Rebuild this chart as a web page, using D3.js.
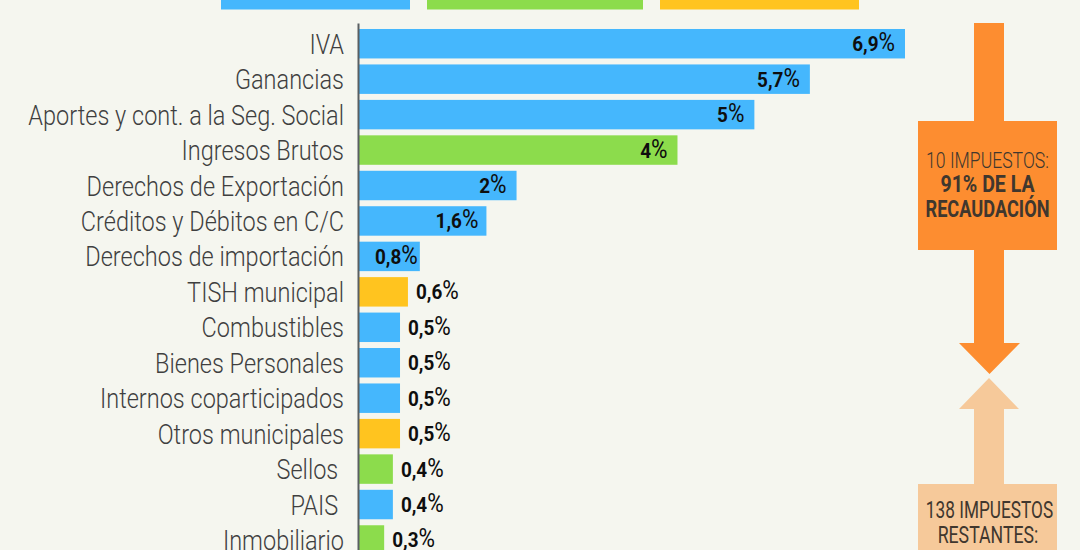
<!DOCTYPE html>
<html>
<head>
<meta charset="utf-8">
<script src="https://cdnjs.cloudflare.com/ajax/libs/d3/7.8.5/d3.min.js"></script>
<style>
  html, body { margin: 0; padding: 0; background: #f5f6ef; overflow: hidden; }
  svg { display: block; }
</style>
</head>
<body>
<script>
// impuestos, de mayor a menor
var categories = ["IVA", "Ganancias", "Aportes y cont. a la Seg. Social", "Ingresos Brutos",
    "Derechos de Exportación", "Créditos y Débitos en C/C", "Derechos de importación",
    "TISH municipal", "Combustibles", "Bienes Personales", "Internos coparticipados",
    "Otros municipales", "Sellos\u00a0", "PAIS\u00a0", "Inmobiliario"];
// largo de barra (puede pasar apenas el valor redondeado)
var values = [6.9, 5.7, 5, 4.03, 2, 1.62, 0.78, 0.63, 0.53, 0.53, 0.53, 0.53, 0.44, 0.44, 0.33];
var valueLabels = ["6,9", "5,7", "5", "4", "2", "1,6", "0,8", "0,6", "0,5", "0,5", "0,5", "0,5", "0,4", "0,4", "0,3"];
// nivel: n = nacional, p = provincial, m = municipal
var levels = ["n", "n", "n", "p", "n", "n", "n", "m", "n", "n", "n", "m", "p", "n", "p"];
var levelNames = ["n", "p", "m"];
var levelColors = ["#45b7fd", "#8cdc4c", "#ffc41f"];

var width = 1080, height = 550;
var squeeze = 0.84;   // Roboto angostada, no hay Barlow Condensed

var color = d3.scaleOrdinal().domain(levelNames).range(levelColors);
var x = d3.scaleLinear().domain([0, 6.9]).range([358, 905]);
var y = d3.scaleBand().domain(categories).range([23, 560.7]).padding(0.169);

var svg = d3.select("body").append("svg")
    .attr("width", width)
    .attr("height", height);

// franjas de la leyenda, cortadas por el borde superior
svg.selectAll("rect.legend")
    .data([[221, 410], [427, 643], [660, 859]])
    .enter().append("rect")
    .attr("class", "legend")
    .attr("x", function(d) { return d[0]; })
    .attr("y", -10)
    .attr("width", function(d) { return d[1] - d[0]; })
    .attr("height", 19.5)
    .attr("fill", function(d, i) { return levelColors[i]; });

// barras
svg.selectAll("rect.bar")
    .data(categories)
    .enter().append("rect")
    .attr("class", "bar")
    .attr("x", x(0))
    .attr("y", function(d) { return y(d); })
    .attr("width", function(d, i) { return x(values[i]) - x(0); })
    .attr("height", y.bandwidth())
    .attr("fill", function(d, i) { return color(levels[i]); });

// eje con las categorias
var axis = svg.append("g")
    .attr("transform", "translate(" + x(0) + ",0)")
    .call(d3.axisLeft(y).tickSize(0).tickPadding(0));

axis.select(".domain")
    .attr("stroke", "#5a5f62")
    .attr("stroke-width", 2);

axis.selectAll("text")
    .attr("x", -14 / squeeze)
    .attr("transform", "scale(" + squeeze + ",1)")
    .attr("dy", "0.36em")
    .style("font", "300 28px Roboto")
    .style("fill", "#3f3f3f");

// valores: adentro de la barra las siete primeras, afuera el resto
var labels = svg.selectAll("text.value")
    .data(categories)
    .enter().append("text")
    .attr("class", "value")
    .attr("text-anchor", function(d, i) { return i < 7 ? "end" : "start"; })
    .attr("transform", function(d, i) {
        // la barra de 0,8 es muy corta, el texto queda casi pegado al final
        var inside = i == 6 ? 2 : (i == 5 ? 8 : 10);
        var px = i < 7 ? x(values[i]) - inside : x(values[i]) + 8;
        return "translate(" + px + "," + (y(d) + y.bandwidth() / 2 + 7.5) + ") scale(0.9,1)";
    })
    .style("font", "700 21px Roboto")
    .style("fill", "#0e0e0e");

labels.append("tspan").text(function(d, i) { return valueLabels[i]; });
labels.append("tspan").style("font-weight", 400).style("font-size", "25px").text("%");

// flechas y recuadros de la derecha
var line = d3.line();
svg.append("path")
    .attr("fill", "#fd8d30")
    .attr("d", line([[974, 23], [1004, 23], [1004, 121], [1057, 121], [1057, 250], [1004, 250],
        [1004, 343], [1020, 343], [989.5, 374], [959, 343], [974, 343], [974, 250], [918, 250],
        [918, 121], [974, 121]]) + "Z");

svg.append("path")
    .attr("fill", "#f6c99a")
    .attr("d", line([[989, 378], [1019, 409], [1004, 409], [1004, 484], [1057, 484], [1057, 560],
        [918, 560], [918, 484], [974, 484], [974, 409], [959, 409]]) + "Z");

function note(txt, px, py, weight, size, sx) {
    svg.append("text")
        .attr("text-anchor", "middle")
        .attr("transform", "translate(" + px + "," + py + ") scale(" + sx + ",1)")
        .style("font", weight + " " + size + "px Roboto")
        .style("fill", "#40372e")
        .text(txt);
}

note("10 IMPUESTOS:", 987.5, 168, 300, 22, 0.8);
note("91% DE LA", 987.5, 192, 700, 23, 0.85);
note("RECAUDACIÓN", 987.5, 217, 700, 23, 0.79);
note("138 IMPUESTOS", 989.5, 518, 400, 23, 0.75);
note("RESTANTES:", 988, 543, 400, 23, 0.77);
</script>
</body>
</html>
